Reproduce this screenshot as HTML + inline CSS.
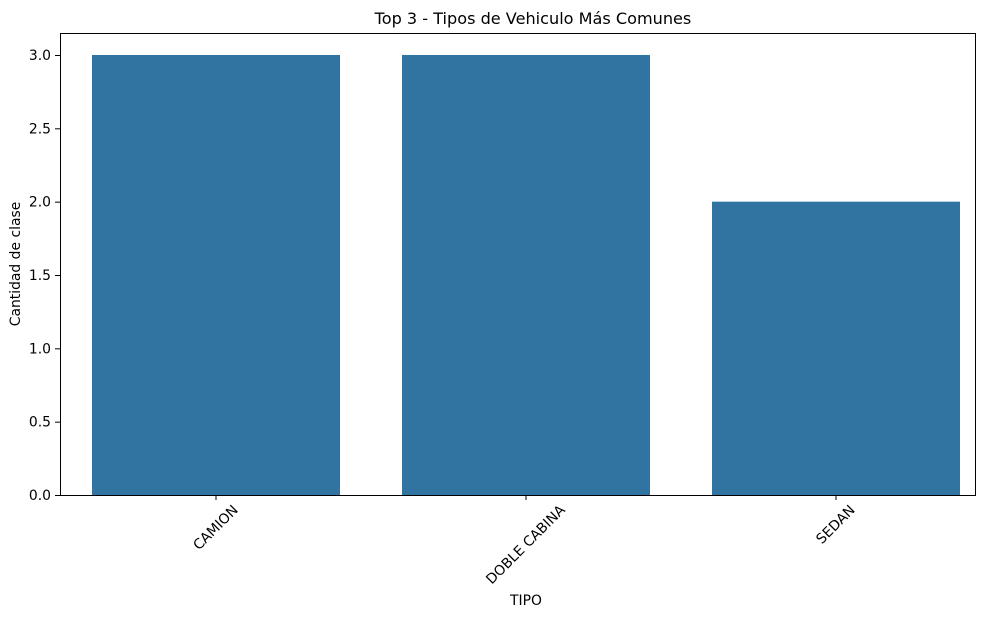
<!DOCTYPE html>
<html><head><meta charset="utf-8"><style>
body{margin:0;background:#fff;}
svg text{font-family:"DejaVu Sans","Liberation Sans",sans-serif;fill:#000;}
</style></head><body>
<svg id="chart" width="1001" height="618" viewBox="0 0 1001 618">
<text x="533" y="24" font-size="16.1" text-anchor="middle">Top 3 - Tipos de Vehiculo Más Comunes</text>
<g id="bars"></g>
<g id="yaxis"></g>
<g id="xaxis"></g>
<rect x="60.5" y="33.5" width="915" height="462" fill="none" stroke="#000" stroke-width="1"/>
<text x="526" y="605" font-size="13.9" text-anchor="middle">TIPO</text>
<text transform="translate(20,264) rotate(-90)" font-size="13.9" text-anchor="middle">Cantidad de clase</text>
</svg>
<script>
const categories=["CAMION","DOBLE CABINA","SEDAN"];
const values=[3,3,2];
const yTicks=[0,0.5,1.0,1.5,2.0,2.5,3.0];
const yTickLabels=["0.0","0.5","1.0","1.5","2.0","2.5","3.0"];
const NS="http://www.w3.org/2000/svg";
const y=v=>495-v*146.67;
const x=i=>216+310*i;
const bw=248;
const bars=document.getElementById('bars'),ya=document.getElementById('yaxis'),xa=document.getElementById('xaxis');
function mk(t,a){const e=document.createElementNS(NS,t);for(const k in a)e.setAttribute(k,a[k]);return e;}
values.forEach((v,i)=>{
 const r=mk('rect',{x:x(i)-bw/2,y:y(v),width:bw,height:y(0)-y(v),fill:'#3274a1'});
 
 
 bars.appendChild(r);
 const tk=mk('line',{x1:x(i),x2:x(i),y1:495,y2:500,stroke:'#000'});
 
 
 xa.appendChild(tk);
 const tx=mk('text',{'font-size':13.9,'text-anchor':'middle','dominant-baseline':'central'});
 tx.textContent=categories[i];
 
 
 xa.appendChild(tx);
 const w=tx.getComputedTextLength();
 const h=(w+14)*0.7071;
 tx.setAttribute('transform',`translate(${x(i)},${503+h/2}) rotate(-45)`);
});
yTicks.forEach((t,i)=>{
 const tk=mk('line',{x1:55,x2:60,y1:y(t)+0.5,y2:y(t)+0.5,stroke:'#000'});
 
 
 ya.appendChild(tk);
 const tx=mk('text',{x:51,y:y(t)+5,'font-size':13.9,'text-anchor':'end'});
 tx.textContent=yTickLabels[i];
 
 
 ya.appendChild(tx);
});
</script>
</body></html>
